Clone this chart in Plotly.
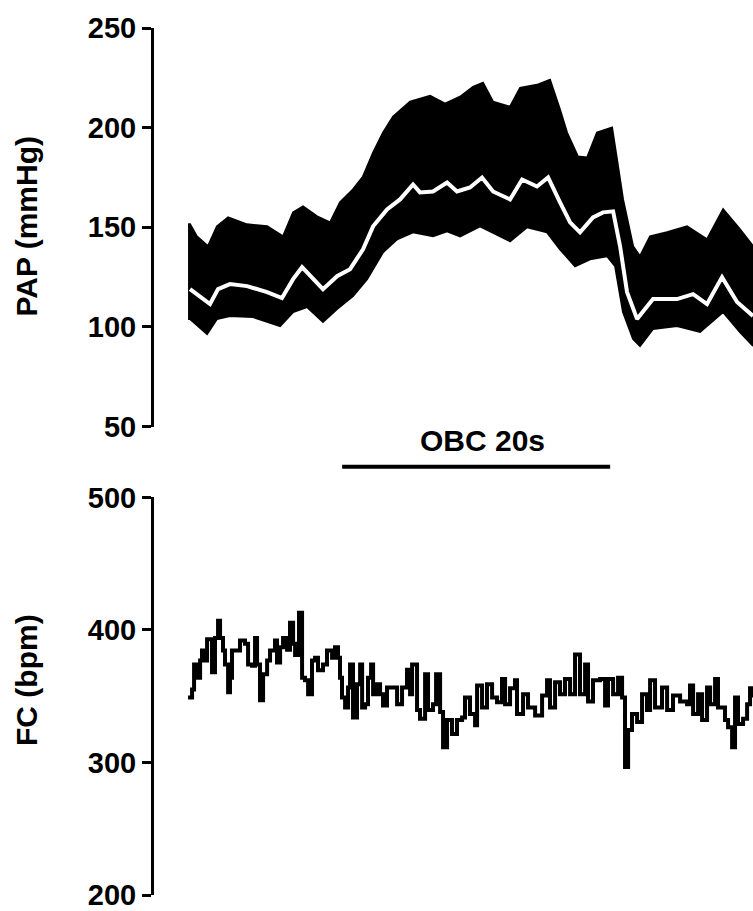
import plotly.graph_objects as go

# ---------------- data (time in seconds) ----------------
# PAP systolic envelope
t_sys = [0.00, 0.15, 0.65, 1.49, 2.16, 2.99, 4.40, 5.90, 7.09, 7.84, 8.58, 9.63, 10.60,
         11.34, 12.31, 13.06, 13.81, 14.55, 15.30, 16.57, 18.06, 19.18, 20.30, 21.27,
         22.01, 22.76, 24.03, 24.78, 26.04, 27.01, 27.76, 28.28, 29.10, 29.78, 30.52,
         31.64, 32.01, 32.46, 33.21, 33.73, 34.48, 35.75, 37.24, 38.73, 39.93, 41.19, 42.16]
pap_sys = [151.5, 151.5, 145.5, 140.5, 150.5, 155.0, 151.5, 150.5, 145.5, 157.5, 160.5, 155.5, 152.5,
           162.5, 169.0, 175.5, 187.5, 197.5, 205.5, 213.0, 216.0, 212.0, 215.5, 220.5,
           222.5, 213.0, 210.5, 220.0, 221.5, 224.0, 209.0, 197.5, 185.5, 185.0, 197.5,
           200.0, 184.0, 164.0, 140.5, 135.5, 145.5, 147.5, 150.5, 144.0, 159.0, 149.0, 140.5]

# PAP diastolic envelope
t_dia = [0.00, 0.15, 1.42, 2.16, 3.13, 4.85, 6.87, 7.84, 8.88, 10.07, 11.12, 12.31, 13.36,
         14.55, 15.60, 16.79, 18.28, 19.33, 20.30, 21.79, 24.03, 25.30, 26.79, 27.76,
         28.88, 30.00, 31.27, 31.87, 32.46, 33.21, 33.73, 34.70, 36.49, 38.21, 39.93,
         41.19, 42.16]
pap_dia = [104.0, 104.0, 96.5, 104.0, 105.5, 105.0, 100.5, 107.5, 110.0, 102.5, 109.0, 115.5, 124.0,
           137.5, 144.0, 147.5, 145.5, 148.0, 145.5, 150.5, 143.0, 150.0, 147.5, 139.0,
           130.5, 134.0, 135.5, 130.5, 107.5, 94.0, 90.5, 99.0, 100.5, 97.5, 107.5,
           97.5, 90.5]

# PAP mean
t_mean = [0.15, 0.90, 1.64, 2.24, 3.13, 4.40, 5.90, 7.01, 7.84, 8.51, 9.25, 10.07, 11.12,
          12.09, 13.06, 13.81, 14.85, 15.82, 16.79, 17.31, 18.28, 19.33, 20.07, 21.04,
          21.94, 22.76, 24.03, 24.93, 26.04, 26.87, 27.76, 28.51, 29.25, 30.22, 30.97,
          31.72, 32.24, 32.76, 33.51, 34.25, 34.70, 36.49, 37.69, 38.73, 39.85, 40.97, 42.16]
pap_mean = [119.0, 115.5, 111.5, 119.0, 121.5, 120.5, 117.5, 114.5, 124.0, 130.0, 125.0, 119.0, 125.5,
            129.0, 139.0, 150.5, 159.0, 164.0, 171.5, 167.5, 168.0, 172.5, 168.0, 170.0,
            175.0, 168.0, 164.0, 174.0, 170.5, 175.0, 162.5, 152.5, 147.5, 155.0, 157.5,
            158.0, 140.5, 117.5, 104.0, 110.5, 114.0, 114.0, 116.5, 111.5, 125.0, 112.5, 105.5]

# Heart rate (FC)
t_hr = [0.00, 0.30, 0.45, 0.75, 0.90, 1.04, 1.27, 1.42, 1.79, 2.01, 2.24, 2.39, 2.61, 2.76,
        2.99, 3.13, 3.28, 3.88, 4.25, 4.48, 4.78, 5.00, 5.15, 5.37, 5.60, 5.90, 6.12, 6.49,
        6.64, 6.87, 7.09, 7.39, 7.61, 7.84, 7.99, 8.28, 8.51, 8.73, 8.96, 9.25, 9.48, 9.70,
        10.07, 10.37, 10.75, 10.97, 11.19, 11.34, 11.49, 11.72, 11.94, 12.09, 12.31, 12.61,
        12.84, 12.99, 13.21, 13.43, 13.66, 13.81, 14.10, 14.33, 14.55, 14.85, 15.60, 15.97,
        16.34, 16.57, 16.72, 17.09, 17.31, 17.69, 17.91, 18.28, 18.51, 18.81, 19.03, 19.33,
        19.70, 20.07, 20.45, 20.67, 21.04, 21.42, 21.57, 21.94, 22.31, 22.69, 23.06, 23.43,
        23.66, 24.03, 24.40, 24.55, 25.00, 25.37, 25.90, 26.42, 26.79, 27.01, 27.39, 27.76,
        28.13, 28.51, 28.88, 29.25, 29.63, 29.85, 30.22, 30.75, 31.12, 31.34, 31.72, 32.09,
        32.39, 32.61, 32.84, 33.13, 33.51, 33.88, 34.25, 34.48, 34.85, 35.37, 35.75, 36.19,
        36.72, 37.24, 37.46, 37.69, 38.06, 38.36, 38.73, 38.96, 39.33, 39.55, 40.07, 40.30,
        40.60, 40.82, 41.04, 41.42, 41.72, 41.94, 42.16]
fc = [349, 355, 374, 364, 377, 384.5, 377, 393, 368, 394, 407, 394, 384.5, 374,
      353, 364, 384.5, 392, 389.5, 374, 373, 394, 374, 347, 366.5, 377, 384.5, 392,
      375.5, 387, 394, 385, 405.5, 389.5, 381, 413, 364, 362, 351.5, 377, 379, 369.5,
      374, 384.5, 379, 387, 379, 364, 349, 341.5, 356.5, 374, 334, 359,
      374, 341.5, 344, 364, 374, 351.5, 359, 351.5, 343, 356.5, 344, 356.5,
      370, 351.5, 374, 339.5, 333, 366.5, 339.5, 344, 366.5, 338, 311.5, 332,
      321.5, 332, 334, 349, 336.5, 328, 358, 341.5, 359, 349, 345.5, 363,
      344, 356, 362, 336.5, 351.5, 341.5, 335.5, 350.5, 362, 341.5, 360.5, 351.5,
      363, 351.5, 381.5, 351.5, 374, 346, 362, 363, 343, 363, 351.5, 364,
      349, 296.5, 324.5, 336.5, 330.5, 351.5, 339.5, 362, 341.5, 356.5, 339.5, 350.5,
      346, 344, 358, 336.5, 351.5, 332, 356.5, 344, 363, 341.5, 332, 326.5,
      311.5, 349, 329, 333, 344, 356, 349]

obc_start, obc_end = 11.5, 31.5
obc_label = "OBC 20s"

pap_ticks = [50, 100, 150, 200, 250]
fc_ticks = [200, 300, 400, 500]

# ---------------- figure ----------------
FONT = "Liberation Sans, Arial, sans-serif"
fig = go.Figure()

fig.add_trace(go.Scatter(
    x=t_sys + t_dia[::-1], y=pap_sys + pap_dia[::-1],
    fill="toself", fillcolor="black", mode="lines",
    line=dict(color="black", width=2), xaxis="x", yaxis="y", hoverinfo="skip"))
fig.add_trace(go.Scatter(
    x=t_mean, y=pap_mean, mode="lines",
    line=dict(color="white", width=4), xaxis="x", yaxis="y"))
fig.add_trace(go.Scatter(
    x=t_hr, y=fc, mode="lines", line_shape="hv",
    line=dict(color="black", width=4), xaxis="x2", yaxis="y2"))

xr = [-2.54, 42.16]
axis_common = dict(showline=True, linecolor="black", linewidth=3, ticks="outside",
                   ticklen=9, tickwidth=3, tickcolor="black", showgrid=False, zeroline=False,
                   ticklabeloverflow="allow",
                   tickfont=dict(family=FONT, size=29, color="black", weight="bold"))

fig.update_layout(
    width=753, height=911,
    margin=dict(l=154, r=0, t=28, b=13),
    paper_bgcolor="white", plot_bgcolor="white",
    showlegend=False,
    xaxis=dict(domain=[0, 1], range=xr, visible=False, anchor="y"),
    xaxis2=dict(domain=[0, 1], range=xr, visible=False, anchor="y2"),
    yaxis=dict(domain=[0.5402, 1], range=[50, 250], tickvals=pap_ticks, anchor="x", **axis_common),
    yaxis2=dict(domain=[0, 0.4586], range=[200, 500], tickvals=fc_ticks, anchor="x2", **axis_common),
)

fig.add_annotation(text="PAP (mmHg)", textangle=-90, xref="paper", yref="paper",
                   x=-0.212, y=0.771, xanchor="center", yanchor="middle", showarrow=False,
                   font=dict(family=FONT, size=30, color="black", weight="bold"))
fig.add_annotation(text="FC (bpm)", textangle=-90, xref="paper", yref="paper",
                   x=-0.212, y=0.248, xanchor="center", yanchor="middle", showarrow=False,
                   font=dict(family=FONT, size=30, color="black", weight="bold"))
fig.add_annotation(text=obc_label, xref="x", yref="paper",
                   x=(obc_start + obc_end) / 2 + 0.45, y=0.524, xanchor="center", yanchor="middle",
                   showarrow=False,
                   font=dict(family=FONT, size=30, color="black", weight="bold"))
fig.add_shape(type="line", xref="x", yref="paper", x0=obc_start, x1=obc_end,
              y0=0.494, y1=0.494, line=dict(color="black", width=4))

fig.write_html("out.html")
